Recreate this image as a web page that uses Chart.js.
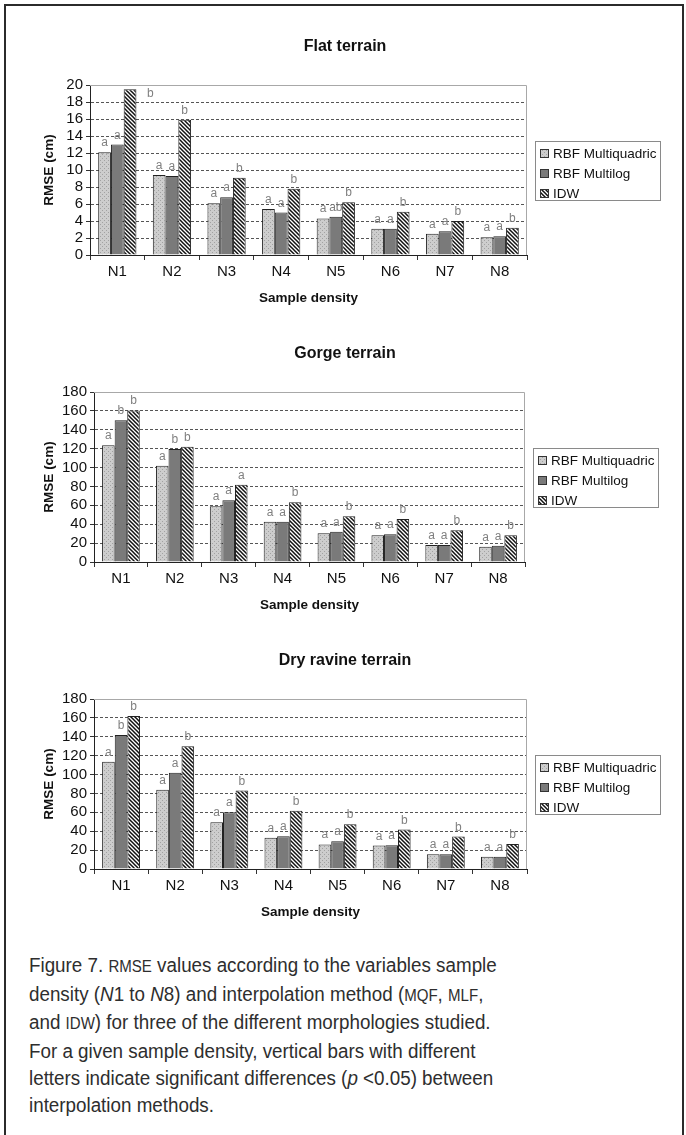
<!DOCTYPE html>
<html>
<head>
<meta charset="utf-8">
<script src="https://cdn.jsdelivr.net/npm/chart.js@4.4.1/dist/chart.umd.min.js"></script>
<style>
  html, body { margin: 0; padding: 0; background: #fff; }
  body { width: 686px; height: 1135px; position: relative; overflow: hidden; }
  #frame { position: absolute; left: 4px; top: 4px; width: 676px; height: 1200px; border: 2px solid #2b2b2b; }
  canvas { position: absolute; left: 4px; }
  #caption { position: absolute; left: 29px; top: 952px; font-family: "Liberation Sans", Arial, sans-serif;
             font-size: 20px; line-height: 26.7px; color: #2e2e2e; white-space: nowrap;
             transform: scaleX(0.94); transform-origin: 0 0; }
  #caption .sc { font-size: 0.8em; }
</style>
</head>
<body>
<div id="frame"></div>
<canvas id="flat" width="682" height="290" style="top:20px"></canvas>
<canvas id="gorge" width="682" height="290" style="top:327px"></canvas>
<canvas id="dry" width="682" height="290" style="top:634px"></canvas>
<div id="caption">
  <div>Figure 7. <span class="sc">RMSE</span> values according to the variables sample</div>
  <div>density (<i>N</i>1 to <i>N</i>8) and interpolation method (<span class="sc">MQF</span>, <span class="sc">MLF</span>,</div>
  <div>and <span class="sc">IDW</span>) for three of the different morphologies studied.</div>
  <div>For a given sample density, vertical bars with different</div>
  <div>letters indicate significant differences (<i>p</i> &lt;0.05) between</div>
  <div>interpolation methods.</div>
</div>
<script>
// Sample densities and series names
const categories = ['N1', 'N2', 'N3', 'N4', 'N5', 'N6', 'N7', 'N8'];
const seriesNames = ['RBF Multiquadric', 'RBF Multilog', 'IDW'];

// RMSE (cm), flat terrain
const flatMQ  = [12.1, 9.4, 6.1, 5.4, 4.3, 3.1, 2.5, 2.1];
const flatML  = [13.0, 9.3, 6.8, 5.0, 4.5, 3.1, 2.8, 2.2];
const flatIDW = [19.5, 15.9, 9.1, 7.8, 6.2, 5.1, 4.0, 3.2];
const flatLetMQ  = ['a', 'a', 'a', 'a', 'a', 'a', 'a', 'a'];
const flatLetML  = ['a', 'a', 'a', 'a', 'ab', 'a', 'a', 'a'];
const flatLetIDW = ['b', 'b', 'b', 'b', 'b', 'b', 'b', 'b'];

// RMSE (cm), gorge terrain
const gorgeMQ  = [123.5, 102, 59, 42.5, 30.5, 28.4, 17.9, 16.1];
const gorgeML  = [150, 119.6, 65.5, 42.5, 32, 29.5, 17.9, 17.2];
const gorgeIDW = [160.5, 122, 81.8, 63.2, 48.4, 45.6, 33.7, 28.4];
const gorgeLetMQ  = ['a', 'a', 'a', 'a', 'a', 'a', 'a', 'a'];
const gorgeLetML  = ['b', 'b', 'a', 'a', 'a', 'a', 'a', 'a'];
const gorgeLetIDW = ['b', 'b', 'a', 'b', 'b', 'b', 'b', 'b'];

// RMSE (cm), dry ravine terrain
const dryMQ  = [113.5, 84, 49.5, 33, 26, 24.8, 15.6, 13.1];
const dryML  = [142, 102, 60, 34.7, 29.4, 25.1, 15.6, 13.1];
const dryIDW = [162, 130, 83, 61.7, 47.5, 41.8, 34.3, 26.5];
const dryLetMQ  = ['a', 'a', 'a', 'a', 'a', 'a', 'a', 'a'];
const dryLetML  = ['b', 'a', 'a', 'a', 'a', 'a', 'a', 'a'];
const dryLetIDW = ['b', 'b', 'b', 'b', 'b', 'b', 'b', 'b'];

// Axis ranges
const flatMax = 20, flatStep = 2;
const bigMax = 180, bigStep = 20;

Chart.defaults.font.family = '"Liberation Sans", Arial, sans-serif';
Chart.defaults.color = '#111';

// Fill patterns: dotted light grey, plain dark grey, diagonal hatching
function dottedPattern() {
  const c = document.createElement('canvas'); c.width = 4; c.height = 4;
  const g = c.getContext('2d');
  g.fillStyle = '#cdcdcd'; g.fillRect(0, 0, 4, 4);
  g.fillStyle = '#a2a2a2'; g.fillRect(0, 0, 1, 1); g.fillRect(2, 2, 1, 1);
  return g.createPattern(c, 'repeat');
}
function hatchPattern() {
  const s = 4;
  const c = document.createElement('canvas'); c.width = s; c.height = s;
  const g = c.getContext('2d');
  g.fillStyle = '#ffffff'; g.fillRect(0, 0, s, s);
  g.strokeStyle = '#111'; g.lineWidth = 1.5;
  g.beginPath();
  g.moveTo(-1, -1); g.lineTo(s + 1, s + 1);
  g.moveTo(s - 1, -1); g.lineTo(s + 1, 1);
  g.moveTo(-1, s - 1); g.lineTo(1, s + 1);
  g.stroke();
  return g.createPattern(c, 'repeat');
}
const fills = [dottedPattern(), '#7a7a7a', hatchPattern()];

// Light frame on the top and right of the plot area
const plotFrame = {
  id: 'plotFrame',
  beforeDatasetsDraw(chart) {
    const { ctx, chartArea: a } = chart;
    ctx.save();
    ctx.strokeStyle = '#a8a8a8'; ctx.lineWidth = 1;
    ctx.beginPath();
    ctx.moveTo(a.left, a.top + 0.5); ctx.lineTo(a.right - 0.5, a.top + 0.5); ctx.lineTo(a.right - 0.5, a.bottom);
    ctx.stroke();
    ctx.restore();
  }
};

// Significance letters above each bar
const letterLabels = {
  id: 'letterLabels',
  afterDatasetsDraw(chart) {
    const { ctx, chartArea: a } = chart;
    ctx.save();
    ctx.font = '12px "Liberation Sans", Arial, sans-serif';
    ctx.fillStyle = '#808080';
    ctx.textAlign = 'center';
    ctx.textBaseline = 'alphabetic';
    chart.data.datasets.forEach((ds, i) => {
      const meta = chart.getDatasetMeta(i);
      meta.data.forEach((bar, j) => {
        const txt = ds.letters[j];
        let x = bar.x, y = bar.y - 6;
        if (y - 8 < a.top) {            // no room above: put it beside the bar
          x = bar.x + bar.width * 1.6;
          y = a.top + 12;
        }
        ctx.fillText(txt, x, y);
      });
    });
    ctx.restore();
  }
};

// Boxed legend to the right of the plot
const boxLegend = {
  id: 'boxLegend',
  afterDraw(chart) {
    const { ctx, chartArea: a } = chart;
    const w = 125, h = 59;
    const left = a.right + 8;
    const top = Math.round((a.top + a.bottom) / 2 - h / 2);
    ctx.save();
    ctx.fillStyle = '#fff';
    ctx.fillRect(left, top, w, h);
    ctx.strokeStyle = '#8a8a8a'; ctx.lineWidth = 1;
    ctx.strokeRect(left + 0.5, top + 0.5, w, h);
    ctx.font = '13.5px "Liberation Sans", Arial, sans-serif';
    ctx.textBaseline = 'middle';
    chart.data.datasets.forEach((ds, i) => {
      const cy = top + 12 + i * 20;
      ctx.fillStyle = ds.backgroundColor;
      ctx.fillRect(left + 5, cy - 4, 8, 8);
      ctx.strokeStyle = '#333';
      ctx.strokeRect(left + 5.5, cy - 3.5, 8, 8);
      ctx.fillStyle = '#111';
      ctx.fillText(ds.label, left + 18, cy + 1);
    });
    ctx.restore();
  }
};

function makeChart(id, title, values, letters, yMax, yStep, plotLeft, plotRight) {
  const canvasLeft = 4, canvasRight = 686;
  return new Chart(document.getElementById(id), {
    type: 'bar',
    data: {
      labels: categories,
      datasets: values.map((v, i) => ({
        label: seriesNames[i],
        data: v,
        letters: letters[i],
        backgroundColor: fills[i],
        borderColor: '#222',
        borderWidth: 1,
        borderSkipped: 'bottom',
        categoryPercentage: 0.70,
        barPercentage: 1.0
      }))
    },
    options: {
      responsive: false,
      animation: false,
      devicePixelRatio: 1,
      layout: { padding: 0 },
      plugins: {
        legend: { display: false },
        tooltip: { enabled: false },
        title: {
          display: true, text: title, color: '#111',
          font: { size: 16, weight: 'bold' },
          padding: { top: 17, bottom: 28.8 }
        }
      },
      scales: {
        x: {
          grid: { display: true, drawOnChartArea: false, drawTicks: true, tickLength: 5, color: '#333', offset: true },
          border: { display: true, color: '#222', width: 1 },
          ticks: { font: { size: 15 }, color: '#111', padding: 3 },
          title: { display: true, text: 'Sample density', color: '#111',
                   font: { size: 13.5, weight: 'bold' }, padding: { top: 0, bottom: 4 } },
          afterFit(s) { s.height = 55; }
        },
        y: {
          min: 0, max: yMax,
          ticks: { stepSize: yStep, autoSkip: false, font: { size: 15 }, color: '#111', padding: 3 },
          grid: {
            drawTicks: true, tickLength: 4, tickColor: '#333', lineWidth: 1,
            color: (c) => (c.tick && (c.tick.value === 0 || c.tick.value === yMax)) ? 'rgba(0,0,0,0)' : '#555'
          },
          border: { display: true, color: '#222', width: 1, dash: [3, 2] },
          title: { display: true, text: 'RMSE (cm)', color: '#111',
                   font: { size: 13.5, weight: 'bold' }, padding: { top: 37, bottom: 0 } },
          afterFit(s) { s.width = plotLeft - canvasLeft; }
        },
        // empty right-hand band that holds the legend box
        legendBand: {
          position: 'right', display: true,
          grid: { display: false }, border: { display: false }, ticks: { display: false },
          afterFit(s) { s.width = canvasRight - plotRight; }
        }
      }
    },
    plugins: [plotFrame, letterLabels, boxLegend]
  });
}

makeChart('flat', 'Flat terrain', [flatMQ, flatML, flatIDW], [flatLetMQ, flatLetML, flatLetIDW], flatMax, flatStep, 90, 527);
makeChart('gorge', 'Gorge terrain', [gorgeMQ, gorgeML, gorgeIDW], [gorgeLetMQ, gorgeLetML, gorgeLetIDW], bigMax, bigStep, 94, 525);
makeChart('dry', 'Dry ravine terrain', [dryMQ, dryML, dryIDW], [dryLetMQ, dryLetML, dryLetIDW], bigMax, bigStep, 94, 527);
</script>
</body>
</html>
